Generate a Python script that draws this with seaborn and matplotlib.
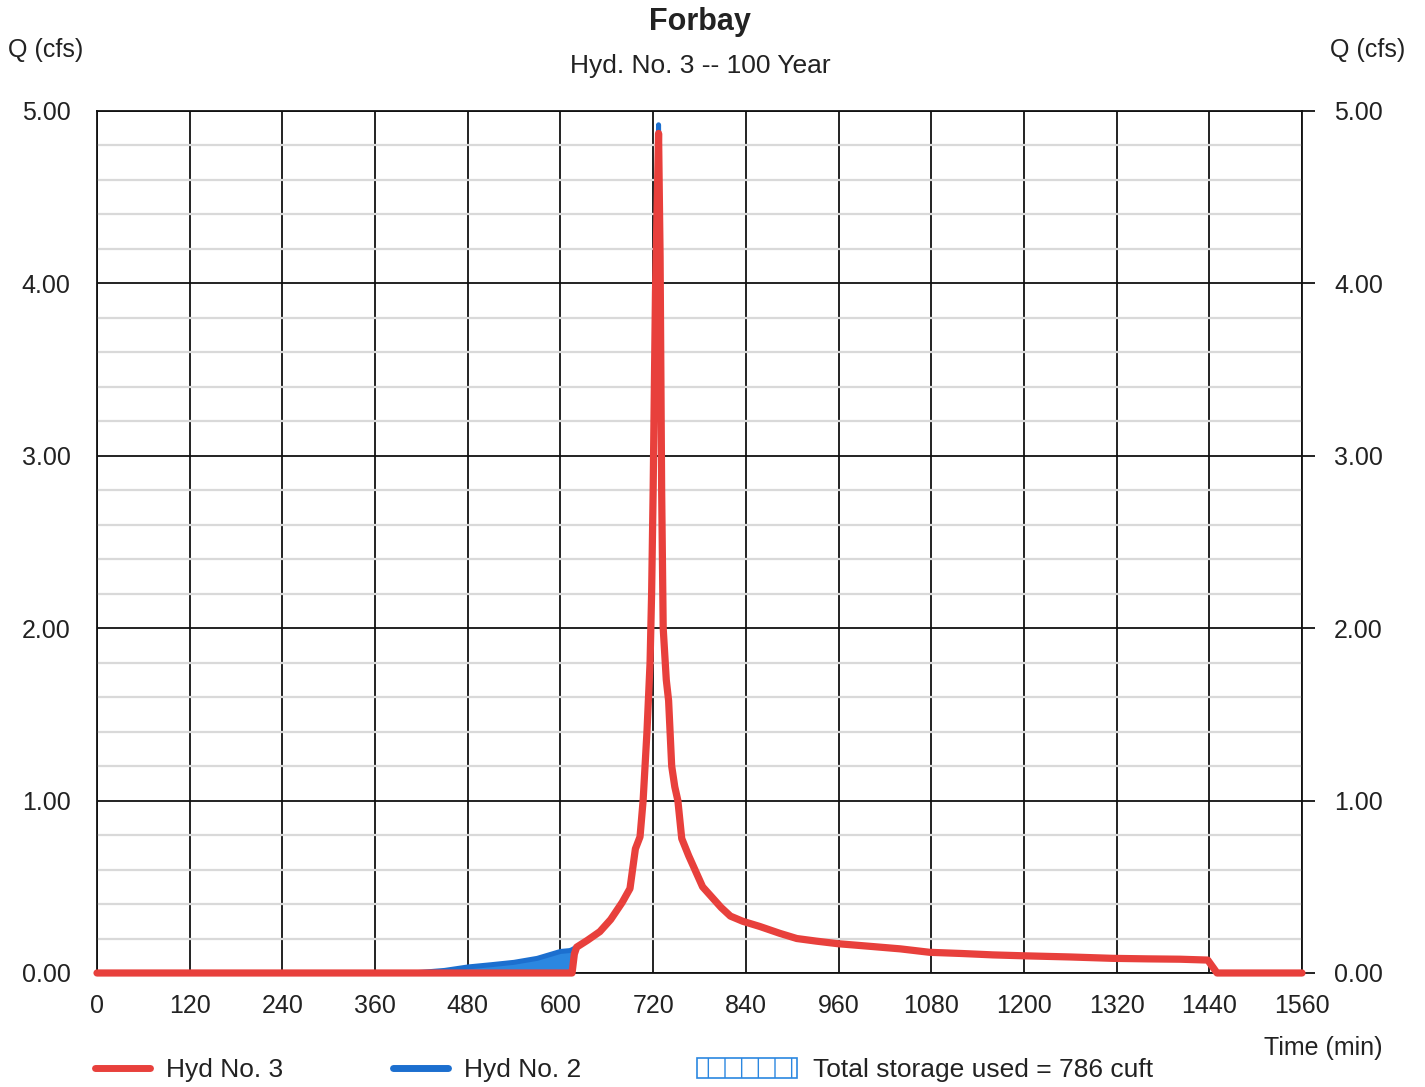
import numpy as np
import pandas as pd
import matplotlib
matplotlib.use("Agg")
import matplotlib.pyplot as plt
import seaborn as sns
from matplotlib.lines import Line2D
from matplotlib.patches import Patch

# ---------------- data ----------------
time_min = [0, 405, 420, 450, 480, 510, 540, 570, 600, 612, 615, 618, 621, 635, 651, 665,
            680, 690, 697, 703, 707, 712, 716, 718, 720, 723, 727, 729, 731, 733, 737,
            740, 744, 748, 752, 757, 766, 776, 784, 796, 808, 820, 836, 858, 884, 906,
            931, 959, 1000, 1040, 1078, 1120, 1160, 1198, 1260, 1315, 1360, 1402, 1438,
            1450, 1560]

hyd2_inflow = [0, 0, 0.004, 0.015, 0.035, 0.048, 0.062, 0.085, 0.125, 0.13, 0.135, 0.143,
               0.15, 0.19, 0.24, 0.31, 0.41, 0.49, 0.72, 0.79, 1.0, 1.4, 1.8, 2.2, 2.8,
               4.0, 4.92, 4.2, 2.8, 2.0, 1.7, 1.58, 1.2, 1.08, 1.0, 0.78, 0.68, 0.58,
               0.50, 0.44, 0.38, 0.33, 0.30, 0.27, 0.23, 0.20, 0.185, 0.17, 0.155, 0.14,
               0.12, 0.113, 0.105, 0.10, 0.093, 0.085, 0.082, 0.08, 0.075, 0.0, 0.0]

hyd3_outflow = [0, 0, 0, 0, 0, 0, 0, 0, 0, 0, 0, 0.11, 0.15,
                0.19, 0.24, 0.31, 0.41, 0.49, 0.72, 0.79, 1.0, 1.4, 1.8, 2.2, 2.8,
                3.95, 4.87, 4.15, 2.8, 2.0, 1.7, 1.58, 1.2, 1.08, 1.0, 0.78, 0.68, 0.58,
                0.50, 0.44, 0.38, 0.33, 0.30, 0.27, 0.23, 0.20, 0.185, 0.17, 0.155, 0.14,
                0.12, 0.113, 0.105, 0.10, 0.093, 0.085, 0.082, 0.08, 0.075, 0.0, 0.0]

x_ticks = list(range(0, 1561, 120))
y_ticks = [0.0, 1.0, 2.0, 3.0, 4.0, 5.0]
y_minor = [0.2, 0.4, 0.6, 0.8, 1.2, 1.4, 1.6, 1.8, 2.2, 2.4, 2.6, 2.8,
           3.2, 3.4, 3.6, 3.8, 4.2, 4.4, 4.6, 4.8]

title = "Forbay"
subtitle = "Hyd. No. 3 -- 100 Year"
storage_label = "Total storage used = 786 cuft"

# ---------------- style ----------------
sns.set_style("white")
plt.rcParams["font.family"] = ["Liberation Sans", "DejaVu Sans"]

RED = "#e8403c"
BLUE = "#1c6fcf"
FILL = "#2b87e0"
TXT = "#222222"

df = pd.DataFrame({"Time": time_min, "Hyd2": hyd2_inflow, "Hyd3": hyd3_outflow})

fig = plt.figure(figsize=(14.25, 10.87), dpi=100)
ax = fig.add_axes([97 / 1425, 114 / 1087, (1302 - 97) / 1425, (973 - 111) / 1087])

# grid
ax.set_xlim(0, 1560)
ax.set_ylim(0, 5)
ax.set_xticks(x_ticks)
ax.set_yticks(y_ticks)
ax.set_yticks(y_minor, minor=True)
ax.grid(which="minor", axis="y", color="#d9d9d9", lw=1.6, zorder=0)
ax.grid(which="major", axis="both", color="#111111", lw=1.3, zorder=1)
ax.set_axisbelow(True)
for s in ax.spines.values():
    s.set_color("#111111")
    s.set_linewidth(1.3)

# storage fill
ax.fill_between(df["Time"], df["Hyd3"], df["Hyd2"], where=df["Hyd2"] > df["Hyd3"],
                interpolate=True, color=FILL, lw=0, zorder=2)

sns.lineplot(data=df, x="Time", y="Hyd2", ax=ax, color=BLUE, lw=3.6, zorder=3,
             clip_on=False)
sns.lineplot(data=df, x="Time", y="Hyd3", ax=ax, color=RED, lw=5.2, zorder=4,
             clip_on=False, solid_capstyle="round")

ax.set_xlabel("")
ax.set_ylabel("")
ax.set_xticklabels([str(v) for v in x_ticks])
ax.set_yticklabels([f"{v:.2f}" for v in y_ticks])
ax.tick_params(axis="x", length=0, pad=15, labelsize=18, labelcolor=TXT)
ax.tick_params(axis="y", which="major", length=9, width=1.3, pad=10, labelsize=18,
               direction="out", color="#111111", labelcolor=TXT)
ax.tick_params(axis="y", which="minor", length=0)

sec = ax.secondary_yaxis("right")
sec.set_yticks(y_ticks)
sec.set_yticklabels([f"{v:.2f}" for v in y_ticks])
sec.tick_params(axis="y", length=9, width=1.3, pad=14, labelsize=18, color="#111111",
                labelcolor=TXT)
sec.spines["right"].set_visible(False)

# texts
fig.text(700 / 1425, 1 - 22 / 1087, title, ha="center", va="center",
         fontsize=22, fontweight="bold", color=TXT)
fig.text(700 / 1425, 1 - 66 / 1087, subtitle, ha="center", va="center",
         fontsize=19, color=TXT)
fig.text(46 / 1425, 1 - 50 / 1087, "Q (cfs)", ha="center", va="center", fontsize=18,
         color=TXT)
fig.text(1368 / 1425, 1 - 50 / 1087, "Q (cfs)", ha="center", va="center", fontsize=18,
         color=TXT)
fig.text(1323 / 1425, 1 - 1048 / 1087, "Time (min)", ha="center", va="center",
         fontsize=18, color=TXT)

# legends
plt.rcParams["hatch.color"] = FILL
line_handles = [Line2D([], [], color=RED, lw=5, solid_capstyle="round"),
                Line2D([], [], color=BLUE, lw=5, solid_capstyle="round")]
leg1 = fig.legend(line_handles, ["Hyd No. 3", "Hyd No. 2"], loc="center left",
                  bbox_to_anchor=(95 / 1425, 1 - 1070 / 1087), ncol=2, frameon=False,
                  handlelength=2.1, handletextpad=0.6, columnspacing=4.15,
                  fontsize=19, borderaxespad=0, borderpad=0)
leg2 = fig.legend([Patch(facecolor="white", edgecolor=FILL, hatch="|", lw=1.2)],
                  [storage_label], loc="center left",
                  bbox_to_anchor=(697 / 1425, 1 - 1070 / 1087), frameon=False,
                  handlelength=3.8, handleheight=0.8, handletextpad=0.6,
                  fontsize=19, borderaxespad=0, borderpad=0)
for lg in (leg1, leg2):
    for t in lg.get_texts():
        t.set_color(TXT)

fig.savefig("out.png", dpi=100)
